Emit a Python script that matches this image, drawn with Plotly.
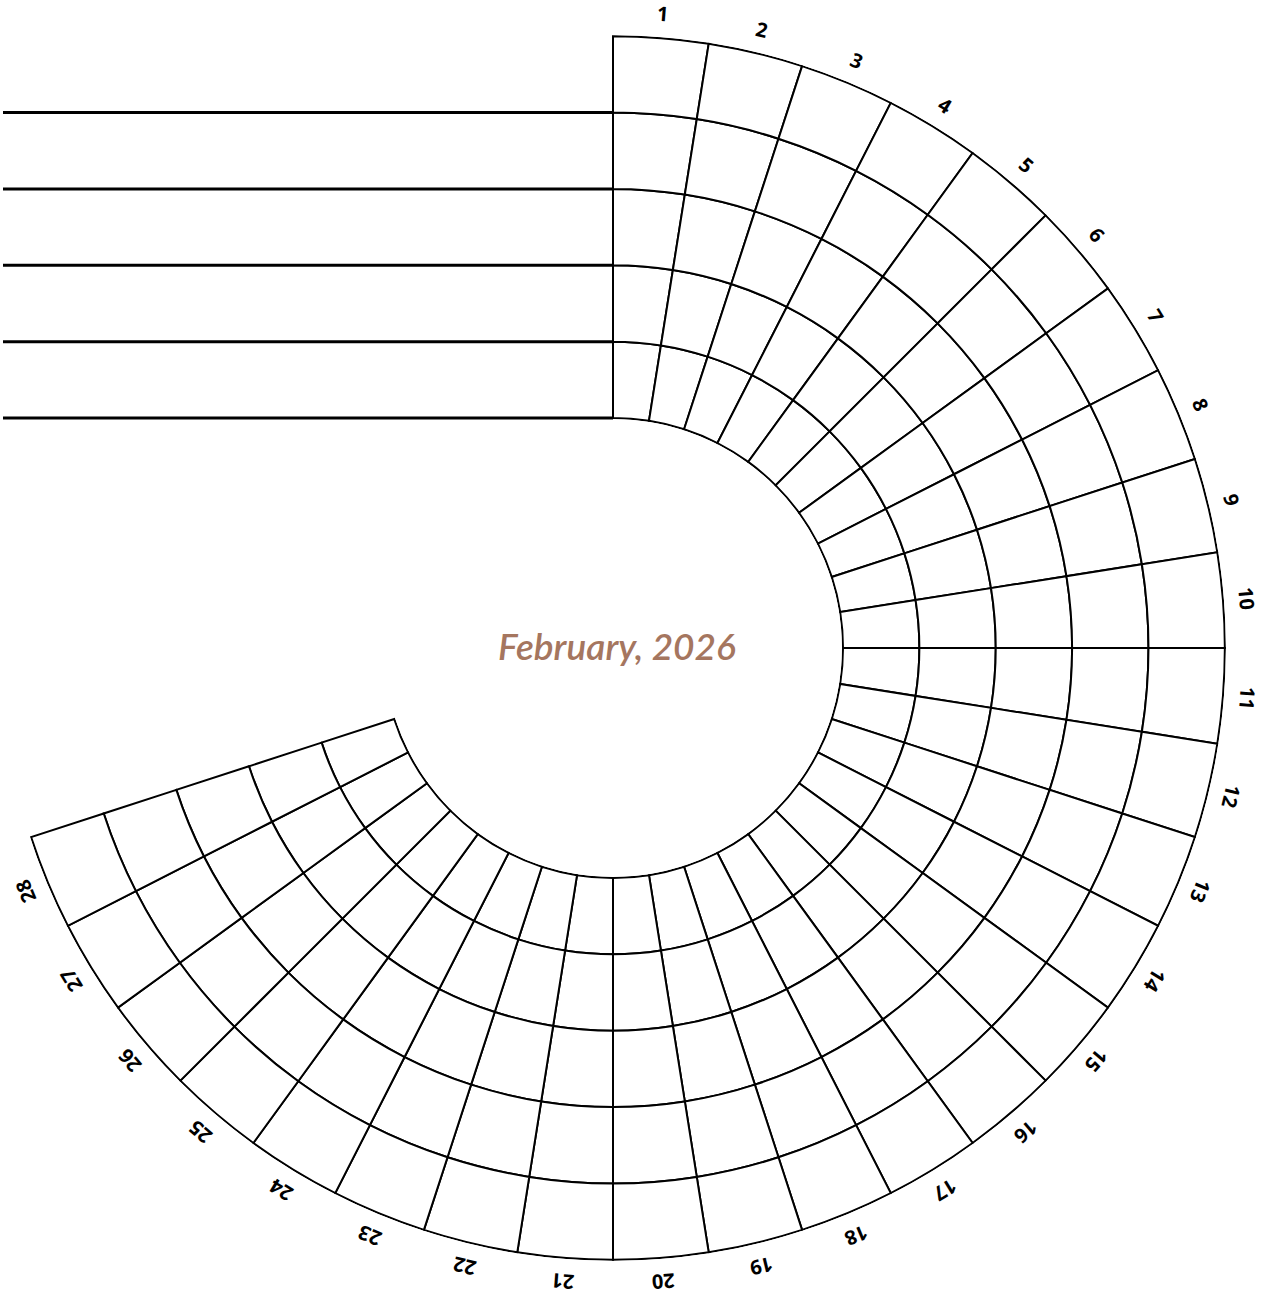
import math
import plotly.graph_objects as go

# ---- data ----
days = list(range(1, 29))                  # day columns
habit_rows = [1, 2, 3, 4, 5]               # habit rings (inner -> outer)
title_text = "February, 2026"

# ---- layout constants ----
W, H = 1264, 1299
CX, CY = 613, 648          # center in pixels (from top-left)
P_OUT = 613                # polar outer pixel radius
R_IN = 230                 # desired inner ring radius
R_LBL = 636
DEG_PER_DAY = 360 / 40     # 9 degrees per day
PAD = 0.015                # radial padding so edge lines are not clipped

n_rows = len(habit_rows)
r0, r1 = -PAD, n_rows + PAD
f = (0 - r0) / (r1 - r0)
P_IN = (R_IN - f * P_OUT) / (1 - f)
step = (P_OUT - P_IN) / (r1 - r0)


def ring_px(k):
    return P_IN + (k - r0) * step


fig = go.Figure()

# ring cells as stacked polar bars
thetas = [(d - 0.5) * DEG_PER_DAY for d in days]
for k, row in enumerate(habit_rows):
    fig.add_trace(go.Barpolar(
        r=[1] * len(days),
        base=[k] * len(days),
        theta=thetas,
        width=[DEG_PER_DAY] * len(days),
        marker=dict(color="white", line=dict(color="black", width=2)),
        hoverinfo="skip",
        showlegend=False,
    ))

# horizontal lines for habit names
for k in range(n_rows):
    yk = CY - ring_px(k)
    fig.add_trace(go.Scatter(
        x=[3, CX], y=[yk, yk], mode="lines",
        line=dict(color="black", width=3),
        hoverinfo="skip", showlegend=False,
        xaxis="x", yaxis="y",
    ))

annotations = []
for d, th in zip(days, thetas):
    a = math.radians(th)
    annotations.append(dict(
        x=CX + R_LBL * math.sin(a), y=CY - R_LBL * math.cos(a),
        xref="x", yref="y", text=str(d), showarrow=False,
        textangle=th, borderpad=0,
        font=dict(family="Open Sans", size=20, color="black", weight="bold"),
    ))
annotations.append(dict(
    x=617, y=645, xref="x", yref="y", text=title_text, showarrow=False,
    font=dict(family="Lato", size=37, color="#a5765f", style="italic", weight=600),
))

fig.update_layout(
    width=W, height=H,
    margin=dict(l=0, r=0, t=0, b=0),
    paper_bgcolor="white", plot_bgcolor="rgba(0,0,0,0)",
    polar=dict(
        domain=dict(x=[(CX - P_OUT) / W, (CX + P_OUT) / W],
                    y=[(H - CY - P_OUT) / H, (H - CY + P_OUT) / H]),
        hole=P_IN / P_OUT,
        bgcolor="rgba(0,0,0,0)",
        barmode="overlay",
        radialaxis=dict(range=[r0, r1], visible=False),
        angularaxis=dict(direction="clockwise", rotation=90, thetaunit="degrees",
                         showgrid=False, showline=False, showticklabels=False, ticks=""),
    ),
    xaxis=dict(range=[0, W], visible=False, domain=[0, 1]),
    yaxis=dict(range=[H, 0], visible=False, domain=[0, 1]),
    annotations=annotations,
    showlegend=False,
)

fig.write_html("out.html", config={"displayModeBar": False},
               post_script="document.body.style.margin='0';")
